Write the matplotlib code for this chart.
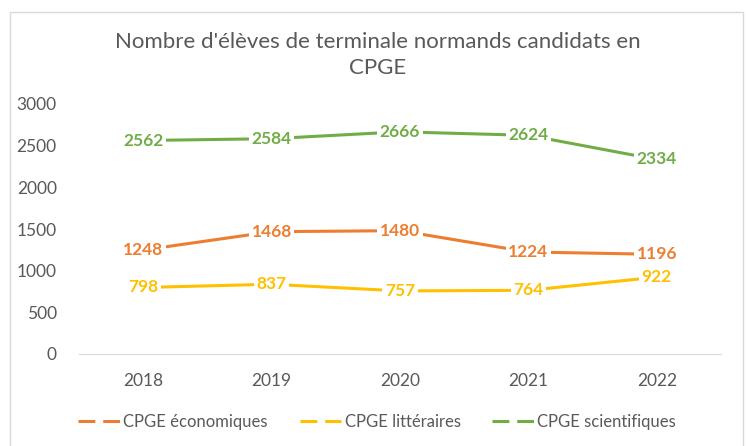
import matplotlib
matplotlib.use("Agg")
import matplotlib.pyplot as plt
from matplotlib.patches import Rectangle

years = ["2018", "2019", "2020", "2021", "2022"]
eco = [1248, 1468, 1480, 1224, 1196]
litt = [798, 837, 757, 764, 922]
sci = [2562, 2584, 2666, 2624, 2334]

series = [
    ("CPGE économiques", eco, "#ED7D31"),
    ("CPGE littéraires", litt, "#FFC000"),
    ("CPGE scientifiques", sci, "#70AD47"),
]

plt.rcParams["font.family"] = ["Lato", "DejaVu Sans"]
gray = "#595959"

fig = plt.figure(figsize=(7.47, 4.46), dpi=100)
fig.patches.append(Rectangle((10 / 747, -0.01), 733 / 747, 1 - 12 / 446 + 0.01,
                             transform=fig.transFigure, fill=False,
                             edgecolor="#D9D9D9", linewidth=1))
ax = fig.add_axes([79 / 747, 1 - 354 / 446, 642 / 747, 250 / 446])

x = list(range(len(years)))
for name, vals, color in series:
    ax.plot(x, vals, color=color, linewidth=2.2, label=name)
    for xi, v in zip(x, vals):
        ax.text(xi, v, str(v), ha="center", va="center", color=color,
                fontsize=12.5, fontweight="bold",
                bbox=dict(boxstyle="square,pad=0.15", facecolor="white", edgecolor="none"))

ax.set_xlim(-0.5, 4.5)
ax.set_ylim(0, 3000)
ax.set_yticks(range(0, 3001, 500))
ax.set_xticks(x)
ax.set_xticklabels(years)
for s in ["top", "right", "left"]:
    ax.spines[s].set_visible(False)
ax.spines["bottom"].set_color("#D9D9D9")
ax.tick_params(axis="both", length=0, colors=gray, labelsize=12.5)
ax.tick_params(axis="y", pad=16)
ax.tick_params(axis="x", pad=14)

fig.text(0.506, 1 - 42 / 446, "Nombre d'élèves de terminale normands candidats en",
         ha="center", va="center", fontsize=16, color=gray)
fig.text(0.506, 1 - 68 / 446, "CPGE", ha="center", va="center", fontsize=16, color=gray)

handles = [plt.Line2D([], [], color=c, linewidth=2.2, linestyle=(0, (5.5, 2.6))) for _, _, c in series]
fig.legend(handles, [n for n, _, _ in series], loc="center", ncol=3,
           bbox_to_anchor=(0.505, 1 - 422 / 446), frameon=False, fontsize=12,
           labelcolor=gray, handlelength=2.5, handletextpad=0.2, columnspacing=1.9)

fig.savefig("out.png", dpi=100)
